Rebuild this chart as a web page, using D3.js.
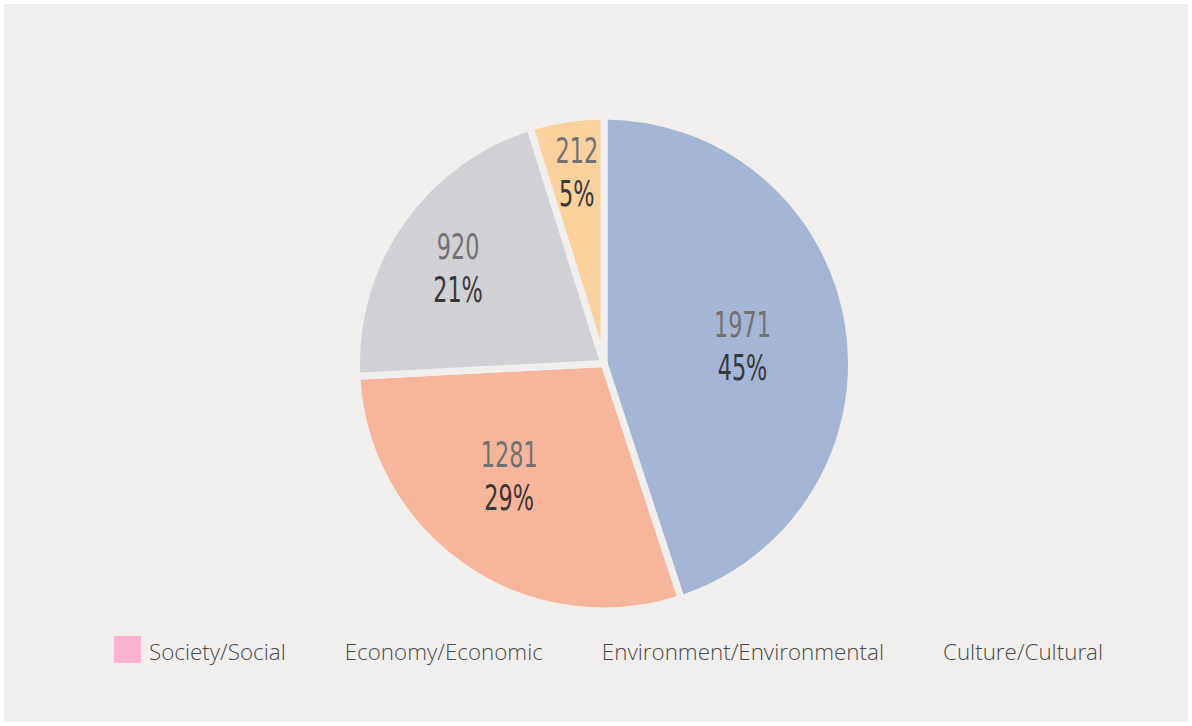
<!DOCTYPE html>
<html>
<head>
<meta charset="utf-8">
<script src="https://cdn.jsdelivr.net/npm/d3@7"></script>
<style>
  html, body { margin: 0; padding: 0; background: #ffffff; }
  svg { display: block; }
</style>
</head>
<body>
<svg id="chart" width="1192" height="726"></svg>
<script>
// ---- data ----
const sliceValues = [1971, 1281, 920, 212];
const sliceColors = ["#a5b5d5", "#f7b59b", "#d1d0d5", "#fbd19d"];
const legendLabels = ["Society/Social", "Economy/Economic", "Environment/Environmental", "Culture/Cultural"];
const legendColors = ["#fdb4d1", "none", "none", "none"];
// label nudges (layout tweaks, px) relative to arc centroid
const labelNudge = [[-13, -2], [-8, -23], [-20, -17], [-4, -49]];

// ---- layout ----
const W = 1192, H = 726;
const bg = "#f0efed";
const cx = 604, cy = 363.5, R = 247.5, gap = 7;

const svg = d3.select("#chart");
svg.append("rect").attr("x", 4).attr("y", 4).attr("width", W - 8).attr("height", H - 8).attr("fill", bg);

const total = d3.sum(sliceValues);
const pie = d3.pie().sort(null).value(d => d)(sliceValues);
const arc = d3.arc().innerRadius(0).outerRadius(R);
const labelArc = d3.arc().innerRadius(R * 0.62).outerRadius(R * 0.62);

const g = svg.append("g").attr("transform", `translate(${cx},${cy})`);
g.selectAll("path.slice").data(pie).join("path")
  .attr("class", "slice")
  .attr("d", arc)
  .attr("fill", (d, i) => sliceColors[i])
  .attr("stroke", bg)
  .attr("stroke-width", gap)
  .attr("stroke-linejoin", "miter");

const font = "'Liberation Sans Narrow', 'DejaVu Sans Condensed', sans-serif";
const lbl = g.selectAll("g.lbl").data(pie).join("g")
  .attr("class", "lbl")
  .attr("transform", (d, i) => {
    const c = labelArc.centroid(d);
    return `translate(${c[0] + labelNudge[i][0]},${c[1] + labelNudge[i][1]}) scale(0.71,1)`;
  });
lbl.append("text")
  .attr("text-anchor", "middle")
  .attr("font-family", font)
  .attr("font-size", 35)
  .attr("fill", "#727272")
  .text(d => d.data);
lbl.append("text")
  .attr("text-anchor", "middle")
  .attr("y", 43)
  .attr("font-family", font)
  .attr("font-size", 35)
  .attr("fill", "#383838")
  .text(d => Math.round(d.data / total * 100) + "%");

// ---- legend ----
const legend = svg.append("g").attr("class", "legend");
let x = 114;
const sw = 27, ly = 636;
legendLabels.forEach((name, i) => {
  const item = legend.append("g").attr("transform", `translate(${x},${ly})`);
  item.append("rect").attr("width", sw).attr("height", sw)
    .attr("fill", legendColors[i]);
  const t = item.append("text")
    .attr("x", sw + 8).attr("y", 24)
    .attr("font-family", "'Open Sans', sans-serif")
    .attr("font-weight", 300)
    .attr("font-size", 22.4)
    .attr("fill", "#4a4a4a")
    .text(name);
  const w = t.node().getComputedTextLength();
  x += sw + 8 + w + 24;
});
</script>
</body>
</html>
